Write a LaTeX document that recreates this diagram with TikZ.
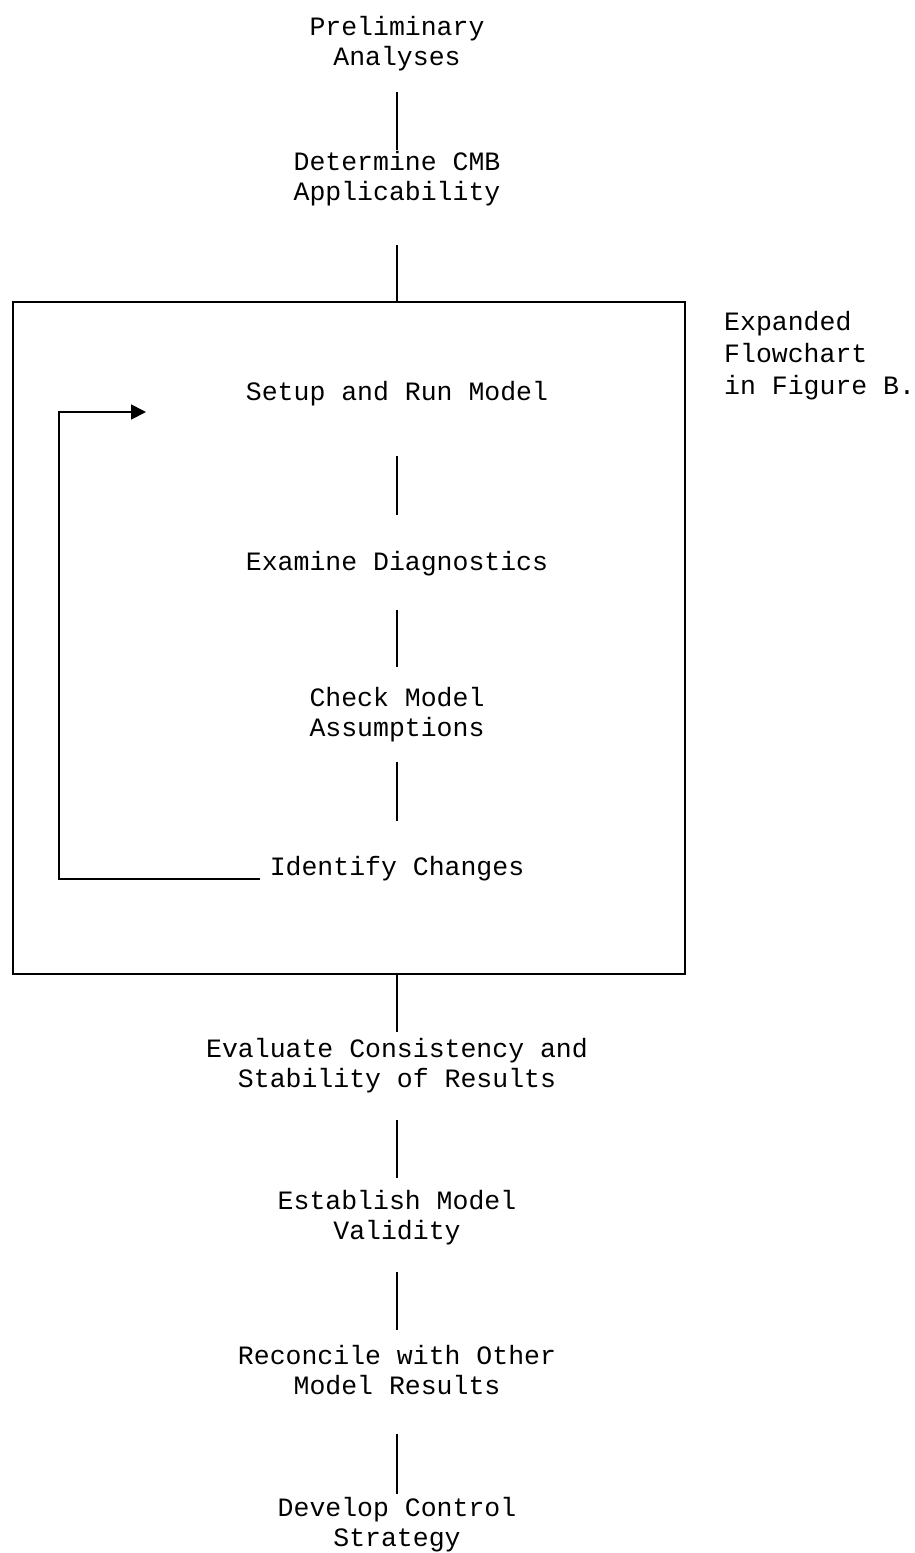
\documentclass[tikz,border=0pt]{standalone}
\usepackage{fontspec}
\setmainfont{Liberation Mono}
\usetikzlibrary{arrows.meta}
% fixed line boxes so that every text line has the same height and depth
\newcommand\rowstrut{\rule[-9pt]{0pt}{30pt}}
\newcommand\notestrut{\rule[-9pt]{0pt}{32pt}}
\begin{document}
\begin{tikzpicture}[x=1pt,y=-1pt,
  label/.style={align=center,inner sep=0pt,font=\fontsize{26.5}{30}\selectfont},
  note/.style={align=left,inner sep=0pt,anchor=west,font=\fontsize{26.5}{32}\selectfont},
  link/.style={line width=1.8pt},
  frame/.style={line width=2.2pt}]
\useasboundingbox (0,0) rectangle (915,1553);

% steps of the procedure
\node[label] (pa)  at (397,44.5)  {Preliminary\rowstrut\\Analyses\rowstrut};
\node[label] (dc)  at (397,179.5) {Determine CMB\rowstrut\\Applicability\rowstrut};
\node[label] (srm) at (397,394.5) {Setup and Run Model\rowstrut};
\node[label] (ed)  at (397,564.5) {Examine Diagnostics\rowstrut};
\node[label] (cma) at (397,715)   {Check Model\rowstrut\\Assumptions\rowstrut};
\node[label] (ic)  at (397,869.5) {Identify Changes\rowstrut};
\node[label] (ec)  at (397,1066.5){Evaluate Consistency and\rowstrut\\Stability of Results\rowstrut};
\node[label] (emv) at (397,1218)  {Establish Model\rowstrut\\Validity\rowstrut};
\node[label] (rec) at (397,1373)  {Reconcile with Other\rowstrut\\Model Results\rowstrut};
\node[label] (dcs) at (397,1525)  {Develop Control\rowstrut\\Strategy\rowstrut};
\node[note]  (exp) at (724,355)   {Expanded\notestrut\\Flowchart\notestrut\\in Figure B.\notestrut};

% frame around the iterative part
\draw[frame] (13,302) coordinate (boxNW) rectangle (685,974) coordinate (boxSE);

% connector end points
\coordinate (c1a) at (397,92);   \coordinate (c1b) at (397,150);
\coordinate (c2a) at (397,245);  \coordinate (c2b) at (397,302);
\coordinate (c3a) at (397,456);  \coordinate (c3b) at (397,515);
\coordinate (c4a) at (397,610);  \coordinate (c4b) at (397,667);
\coordinate (c5a) at (397,762);  \coordinate (c5b) at (397,821);
\coordinate (c6a) at (397,974);  \coordinate (c6b) at (397,1032);
\coordinate (c7a) at (397,1120); \coordinate (c7b) at (397,1178);
\coordinate (c8a) at (397,1272); \coordinate (c8b) at (397,1330);
\coordinate (c9a) at (397,1434); \coordinate (c9b) at (397,1494);

\foreach \i in {1,...,9}{\draw[link] (c\i a) -- (c\i b);}

% feedback loop
\coordinate (loopStart) at (260,879);
\coordinate (loopCorner) at (59,879);
\coordinate (loopEnd) at (146,412);
\draw[link,-{Triangle[length=15pt,width=15pt]}] (loopStart) -- (loopCorner) |- (loopEnd);
\end{tikzpicture}
\end{document}
